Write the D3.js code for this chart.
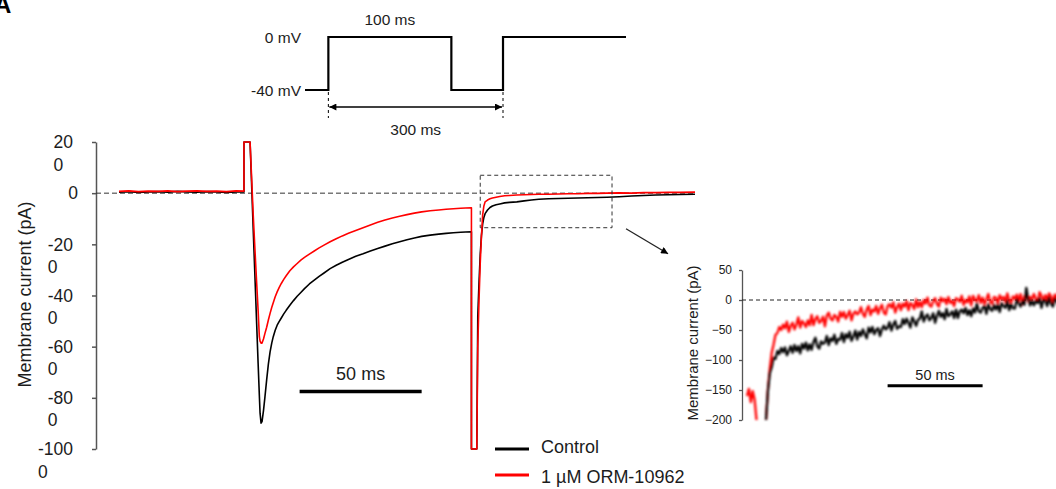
<!DOCTYPE html>
<html>
<head>
<meta charset="utf-8">
<script src="https://cdn.jsdelivr.net/npm/d3@7"></script>
<style>
  html, body { margin: 0; padding: 0; background: #fff; overflow: hidden; }
  svg { display: block; font-family: "Liberation Sans", Arial, sans-serif; }
</style>
</head>
<body>
<svg id="chart" width="1056" height="489"></svg>
<script>
// ---- Voltage protocol (schematic) ----
const protoTime = [0, 19, 119, 161, 261];      // ms, boundaries of each held level
const protoVolt = [-40, 0, -40, 0];            // mV held between boundaries
const protoLevelLabels = ["0 mV", "-40 mV"];
const protoLevels = [0, -40];
const pulseLabel = "100 ms";
const intervalLabel = "300 ms";

// ---- Whole-cell current traces (ms, pA) ----
const mainTime = [0,4,8,12,16,20,24,28,32,36,40,44,48,51.2,
  51.2,53.7,
  54.2,55.0,55.3,56.0,56.4,57.0,57.5,57.8,58.2,58.6,
  59.2,59.8,60.5,61.2,61.9,62.6,63.2,64.0,64.8,65.6,
  66.5,67.5,68.5,70,71.5,73,74.5,76,78,80,
  82,84,86.5,89,91.5,94,97,100,103,106,
  109,112,115,118,121,124,127.5,131,134,137,
  140,142,144.4,
  144.4,146.6,
  147,147.5,148,148.5,149,149.5,150,
  151,152,153,
  154.5,156,158,160,
  163,166,169,172,
  176,180,184,188,192,196,200,
  205,210,215,220,225,230,
  236];

const controlMain = [4,6,3,5,6,4,7,5,4,6,5,3,5,5,
  200,200,
  70,-144,-222,-405,-510,-665,-790,-860,-899,-893,
  -850,-796,-730,-668,-620,-585,-561,-536,-516,-502,
  -488,-472,-458,-438,-420,-403,-388,-373,-355,-340,
  -325,-312,-295,-282,-270,-259,-247,-237,-226,-216,
  -207,-198,-190,-182,-175,-169,-164,-160,-157,-155,
  -153,-152,-151,
  -1000,-1000,
  -480,-350,-240,-165,-120,-95,-80,
  -66,-56,-50,
  -45,-42,-38,-36,
  -34,-30,-27,-24,
  -22,-21,-20,-19,-18,-17,-16,
  -14,-11,-9,-7,-6,-5,
  -4];

const ormMain = [7,9,6,8,7,9,6,8,9,7,8,6,9,8,
  200,200,
  90,-86,-144,-277,-350,-458,-561,-578,-586,-586,
  -570,-548,-524,-496,-470,-446,-428,-405,-386,-369,
  -353,-337,-323,-303,-288,-275,-262,-251,-238,-226,
  -214,-203,-190,-178,-167,-157,-146,-135,-124,-114,
  -105,-97,-90,-84,-78,-73,-69,-66,-63,-61,
  -59,-58,-57,
  -1000,-1000,
  -600,-420,-275,-170,-85,-50,-34,
  -27,-22,-19,
  -16,-13,-10,-9,
  -7,-6,-5,-4,
  -4,-3,-2,-2,-1,-1,0,
  1,0,2,2,3,3,
  4];

const mainTickValues = [200, 0, -200, -400, -600, -800, -1000];
const mainTickLabels = ["200", "0", "-200", "-400", "-600", "-800", "-1000"];

// ---- Tail current, expanded (1 ms samples, null = off scale) ----
const insetSampleMs = 1;
const ormInset = [-160,-148,-170,-152,-166,-200,null,null,null,null,-200,
  -150,-115,-88,-74,-58,-55,-45,
  -50,-41,-47,-36,-53,-43,-38,-49,
  -41,-29,-46,-35,-39,-45,-34,-42,
  -25,-42,-32,-27,-38,-35,-28,-44,
  -26,-21,-31,-34,-25,-28,-36,-20,
  -28,-20,-31,-25,-18,-34,-23,-19,
  -24,-21,-12,-23,-28,-16,-10,-25,
  -16,-19,-10,-23,-14,-8,-21,-24,
  -10,-7,-13,-4,-21,-12,-6,-17,
  -6,-11,-2,-17,-5,-8,-15,1,-12,
  -3,-12,0,-6,4,-9,-11,-2,3,-7,
  -11,4,-2,2,-7,5,-5,-1,-10,3,
  1,-3,7,-8,0,-4,6,-9,7,0,
  -2,8,-5,4,-7,1,10,-3,-6,5,
  4,-6,8,1,5,-3,11,0,-5,6,
  2,9,-2,10,-7,6,9,-2,5,1,
  10,2,-4,13,7,-1,8,0,11,6,
  -4,9,3,13];

const controlInset = [null,null,null,null,null,null,null,null,null,null,
  -200,-152,-122,-112,-96,-98,-85,-90,-80,
  -87,-79,-92,-85,-77,-88,-75,
  -85,-77,-89,-73,-81,-71,-84,
  -74,-83,-70,-63,-77,-81,-69,-73,
  -71,-60,-75,-64,-68,-58,-73,-65,
  -66,-55,-70,-57,-63,-53,-68,-61,
  -51,-66,-53,-60,-49,-57,-64,-46,
  -54,-45,-57,-50,-47,-60,-49,-43,
  -49,-46,-37,-51,-41,-35,-48,-44,
  -45,-32,-40,-31,-38,-46,-29,-35,-43,-33,
  -31,-19,-36,-28,-24,-34,-30,-22,-38,-26,
  -18,-28,-22,-32,-15,-27,-24,-19,-30,-16,
  -30,-19,-16,-22,-13,-25,-17,-27,-14,-21,
  -6,-19,-21,-13,-10,-23,-7,-15,-18,-8,
  -16,-8,-20,-5,-10,-13,-1,-17,-7,-14,
  -14,1,-5,-11,-2,-8,20,2,-9,-1,
  -9,-1,-5,3,-13,0,-1,-10,4,-6,
  -11,2,-1,-9];

const insetTickValues = [50, 0, -50, -100, -150, -200];

// Region of the main record that the inset expands
const zoomWindowTime = [148, 202];
const zoomWindowCurrent = [-135, 70];

const seriesNames = ["Control", "1 µM ORM-10962"];
const seriesColors = ["#000000", "#ff0000"];

const svg = d3.select("#chart");
const textColor = "#1c1c1c";

// defs: arrowheads and a soft blur for the expanded traces
const defs = svg.append("defs");
defs.append("marker").attr("id", "arrowEnd")
  .attr("viewBox", "0 0 10 10").attr("refX", 10).attr("refY", 5)
  .attr("markerWidth", 8).attr("markerHeight", 7).attr("markerUnits", "userSpaceOnUse")
  .attr("orient", "auto")
  .append("path").attr("d", "M0,0 L10,5 L0,10 Z").attr("fill", "#000");
defs.append("marker").attr("id", "arrowStart")
  .attr("viewBox", "0 0 10 10").attr("refX", 0).attr("refY", 5)
  .attr("markerWidth", 8).attr("markerHeight", 7).attr("markerUnits", "userSpaceOnUse")
  .attr("orient", "auto")
  .append("path").attr("d", "M10,0 L0,5 L10,10 Z").attr("fill", "#000");
defs.append("filter").attr("id", "soft").attr("x", "-5%").attr("y", "-5%").attr("width", "110%").attr("height", "110%")
  .append("feGaussianBlur").attr("stdDeviation", 1.0);

// Panel letter
svg.append("text").attr("x", -6).attr("y", 13)
  .attr("font-size", 24).attr("font-weight", "bold").attr("fill", "#000").text("A");

// ---------------- Protocol ----------------
const xProto = d3.scaleLinear().domain([0, 261]).range([305, 626]);
const yProto = d3.scaleLinear().domain([-40, 0]).range([90, 37]);
const protoPts = [];
protoVolt.forEach((v, i) => {
  protoPts.push([protoTime[i], v]);
  protoPts.push([protoTime[i + 1], v]);
});
svg.append("path")
  .attr("d", d3.line().x(d => xProto(d[0])).y(d => yProto(d[1]))(protoPts))
  .attr("fill", "none").attr("stroke", "#000").attr("stroke-width", 2.2);

protoLevels.forEach((lv, i) => {
  svg.append("text").attr("x", xProto(0) - 4).attr("y", yProto(lv) + 5.5)
    .attr("text-anchor", "end").attr("font-size", 15.5).attr("fill", textColor)
    .text(protoLevelLabels[i]);
});
svg.append("text").attr("x", xProto((protoTime[1] + protoTime[2]) / 2)).attr("y", 25)
  .attr("text-anchor", "middle").attr("font-size", 15.5).attr("fill", textColor).text(pulseLabel);

[protoTime[1], protoTime[3]].forEach(t => {
  svg.append("line").attr("x1", xProto(t)).attr("x2", xProto(t))
    .attr("y1", yProto(-40) + 2).attr("y2", 118)
    .attr("stroke", "#000").attr("stroke-width", 1).attr("stroke-dasharray", "3,3");
});
svg.append("line").attr("x1", xProto(protoTime[1]) + 1).attr("x2", xProto(protoTime[3]) - 1)
  .attr("y1", 107).attr("y2", 107).attr("stroke", "#000").attr("stroke-width", 1.3)
  .attr("marker-start", "url(#arrowStart)").attr("marker-end", "url(#arrowEnd)");
svg.append("text").attr("x", xProto((protoTime[1] + protoTime[3]) / 2)).attr("y", 135)
  .attr("text-anchor", "middle").attr("font-size", 15.5).attr("fill", textColor).text(intervalLabel);

// ---------------- Main record ----------------
const xMain = d3.scaleLinear().domain([0, 236]).range([119, 695]);
const yMain = d3.scaleLinear().domain([-1000, 200]).range([449, 142]);
const axisX = 96;

const gAxis = svg.append("g").attr("transform", `translate(${axisX},0)`)
  .call(d3.axisLeft(yMain).tickValues(mainTickValues).tickSize(4).tickSizeOuter(0).tickFormat(""));
gAxis.selectAll("path, line").attr("stroke", "#555").attr("stroke-width", 1.5);

// tick labels wrap onto two lines, the final "0" dropping below
mainTickValues.forEach((v, i) => {
  const lab = mainTickLabels[i];
  const y = yMain(v);
  if (lab.length === 1) {
    svg.append("text").attr("x", 78).attr("y", y + 6.2).attr("text-anchor", "end")
      .attr("font-size", 17.5).attr("fill", textColor).text(lab);
  } else {
    const first = svg.append("text").attr("x", 73).attr("y", y + 6.2).attr("text-anchor", "end")
      .attr("font-size", 17.5).attr("fill", textColor).text(lab.slice(0, -1));
    const left = 73 - first.node().getComputedTextLength();
    svg.append("text").attr("x", left).attr("y", y + 28.5).attr("text-anchor", "start")
      .attr("font-size", 17.5).attr("fill", textColor).text(lab.slice(-1));
  }
});

svg.append("text").attr("transform", `translate(31,${(yMain(200) + yMain(-1000)) / 2 - 1}) rotate(-90)`)
  .attr("text-anchor", "middle").attr("font-size", 18).attr("fill", textColor)
  .text("Membrane current (pA)");

// zero-current reference
svg.append("line").attr("x1", axisX).attr("x2", xMain(236)).attr("y1", yMain(0)).attr("y2", yMain(0))
  .attr("stroke", "#333").attr("stroke-width", 1).attr("stroke-dasharray", "5,3");

const mainLine = vals => d3.line().x((d, i) => xMain(mainTime[i])).y(d => yMain(d))(vals);
svg.append("path").attr("d", mainLine(controlMain)).attr("fill", "none")
  .attr("stroke", seriesColors[0]).attr("stroke-width", 1.6).attr("stroke-linejoin", "round");
svg.append("path").attr("d", mainLine(ormMain)).attr("fill", "none")
  .attr("stroke", seriesColors[1]).attr("stroke-width", 1.6).attr("stroke-linejoin", "round");

// time scale bar
const barT0 = 74, barLen = 50, barI = -775;
svg.append("line").attr("x1", xMain(barT0)).attr("x2", xMain(barT0 + barLen))
  .attr("y1", yMain(barI)).attr("y2", yMain(barI)).attr("stroke", "#000").attr("stroke-width", 3.5);
svg.append("text").attr("x", xMain(barT0 + barLen / 2)).attr("y", yMain(barI) - 11)
  .attr("text-anchor", "middle").attr("font-size", 18).attr("fill", textColor).text(barLen + " ms");

// expanded region outline and pointer
const bx0 = xMain(zoomWindowTime[0]), bx1 = xMain(zoomWindowTime[1]);
const by0 = yMain(zoomWindowCurrent[1]), by1 = yMain(zoomWindowCurrent[0]);
svg.append("rect").attr("x", bx0).attr("y", by0).attr("width", bx1 - bx0).attr("height", by1 - by0)
  .attr("fill", "none").attr("stroke", "#333").attr("stroke-width", 1).attr("stroke-dasharray", "4,3");
svg.append("line").attr("x1", bx1 + 14).attr("y1", by1 + 1).attr("x2", bx1 + 56).attr("y2", by1 + 26)
  .attr("stroke", "#222").attr("stroke-width", 1.3).attr("marker-end", "url(#arrowEnd)");

// ---------------- Inset ----------------
const xInset = d3.scaleLinear().domain([0, 163]).range([747, 1056.7]);
const yInset = d3.scaleLinear().domain([-200, 50]).range([420, 270]);
const insetAxisX = 742;

const gIn = svg.append("g").attr("transform", `translate(${insetAxisX},0)`)
  .call(d3.axisLeft(yInset).tickValues(insetTickValues).tickSize(3).tickSizeOuter(0).tickPadding(7));
gIn.selectAll("path, line").attr("stroke", "#555").attr("stroke-width", 1.3);
gIn.selectAll("text").attr("font-size", 12).attr("fill", textColor)
  .attr("font-family", "Liberation Sans, Arial, sans-serif");

svg.append("text").attr("transform", `translate(698,${(yInset(50) + yInset(-200)) / 2 - 2}) rotate(-90)`)
  .attr("text-anchor", "middle").attr("font-size", 15).attr("fill", textColor)
  .text("Membrane current (pA)");

svg.append("line").attr("x1", insetAxisX).attr("x2", 1056).attr("y1", yInset(0)).attr("y2", yInset(0))
  .attr("stroke", "#222").attr("stroke-width", 1).attr("stroke-dasharray", "4,3");

const insetLine = d3.line().defined(d => d != null)
  .x((d, i) => xInset(i * insetSampleMs)).y(d => yInset(d));
const gTr = svg.append("g").attr("filter", "url(#soft)");
gTr.append("path").attr("d", insetLine(ormInset)).attr("fill", "none")
  .attr("stroke", seriesColors[1]).attr("stroke-width", 2.3).attr("stroke-linejoin", "round");
gTr.append("path").attr("d", insetLine(controlInset)).attr("fill", "none")
  .attr("stroke", seriesColors[0]).attr("stroke-width", 2.3).attr("stroke-linejoin", "round");

const ibarT0 = 74, ibarI = -143;
svg.append("line").attr("x1", xInset(ibarT0)).attr("x2", xInset(ibarT0 + barLen))
  .attr("y1", yInset(ibarI)).attr("y2", yInset(ibarI)).attr("stroke", "#000").attr("stroke-width", 3);
svg.append("text").attr("x", xInset(ibarT0 + barLen / 2)).attr("y", yInset(ibarI) - 6)
  .attr("text-anchor", "middle").attr("font-size", 14.5).attr("fill", textColor).text(barLen + " ms");

// ---------------- Legend ----------------
const legendRows = [449, 475];
seriesNames.forEach((name, i) => {
  svg.append("line").attr("x1", 495).attr("x2", 529).attr("y1", legendRows[i]).attr("y2", legendRows[i])
    .attr("stroke", seriesColors[i]).attr("stroke-width", 3);
  svg.append("text").attr("x", 541).attr("y", legendRows[i] + 4 + i * 4)
    .attr("font-size", 18).attr("fill", textColor).text(name);
});
</script>
</body>
</html>
